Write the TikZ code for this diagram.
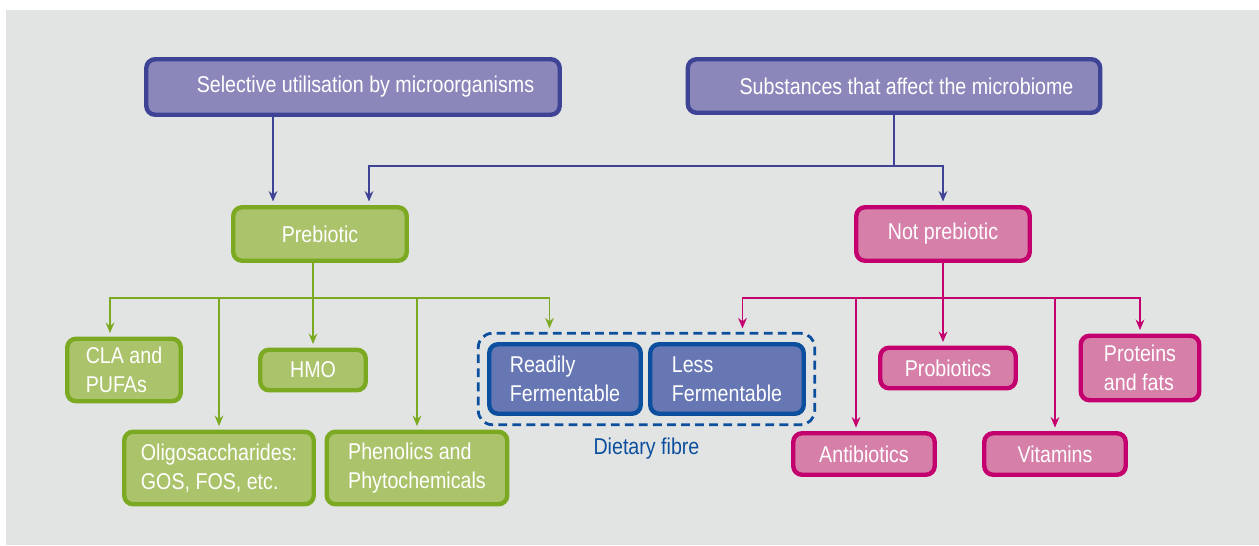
\documentclass[tikz,border=0pt]{standalone}
\usepackage{fontspec}
\setmainfont[FakeStretch=0.86]{Liberation Sans}
\usetikzlibrary{positioning,arrows.meta,calc,fit}

\definecolor{panel}{HTML}{E2E4E3}
\definecolor{lilac}{HTML}{8B87BA}
\definecolor{lilacdark}{HTML}{3F4396}
\definecolor{leaf}{HTML}{ABC36A}
\definecolor{leafdark}{HTML}{7BAA22}
\definecolor{rose}{HTML}{D67FA8}
\definecolor{rosedark}{HTML}{C4006E}
\definecolor{fibre}{HTML}{6677B4}
\definecolor{fibredark}{HTML}{0B4F9E}

\begin{document}
\begin{tikzpicture}[
      x=0.02cm, y=-0.02cm,
      boite/.style={
        draw,
        rounded corners=5pt,
        line width=2.5pt,
        text=white,
        font=\fontsize{13}{16.5}\selectfont,
        align=left,
        inner sep=2pt
      },
      haut/.style={
        boite,
        fill=lilac,
        draw=lilacdark
      },
      pre/.style={
        boite,
        fill=leaf,
        draw=leafdark
      },
      nonpre/.style={
        boite,
        fill=rose,
        draw=rosedark
      },
      fib/.style={
        boite,
        fill=fibre,
        draw=fibredark
      },
      arr/.style={
        -{Stealth[length=6pt,width=5pt,inset=2pt]},
        line width=0.7pt,
        shorten >=2pt
      }
    ]
    % fond
    \fill[white] (0,0) rectangle (1259,545);
    \fill[panel] (6,10) rectangle (1259,545);

    % niveau 1
    \node[haut, minimum width=8.27cm, minimum height=1.11cm] (selec) at (353,87)
      {\hspace{0.5cm}Selective utilisation by microorganisms};
    \node[haut, minimum width=8.25cm, minimum height=1.07cm] (subst) at (894,86)
      {\hspace{0.5cm}Substances that affect the microbiome};

    % niveau 2
    \node[pre, minimum width=3.47cm, minimum height=1.07cm] (prebio) at (320,234) {Prebiotic};
    \node[nonpre, minimum width=3.47cm, minimum height=1.07cm] (nonprebio) at (943,234) {Not prebiotic};

    % prebiotiques
    \node[pre, minimum width=2.27cm, minimum height=1.25cm] (cla) at (124,370) {CLA and\\PUFAs};
    \node[pre, minimum width=2.11cm, minimum height=0.81cm] (hmo) at (313,370) {HMO};
    \node[pre, minimum width=3.79cm, minimum height=1.45cm] (oligo) at (219,468) {Oligosaccharides:\\GOS, FOS, etc.};
    \node[pre, minimum width=3.61cm, minimum height=1.45cm] (pheno) at (417,468) {Phenolics and\\Phytochemicals};

    % fibres
    \node[fib, minimum width=3.03cm, minimum height=1.39cm] (readily) at (565,379) {Readily\\Fermentable};
    \node[fib, minimum width=3.07cm, minimum height=1.39cm] (less) at (727,379) {Less\\Fermentable};
    \node[draw=fibredark, dash pattern=on 5pt off 3pt, line width=1.6pt, rounded corners=8pt,
          inner sep=5pt, fit=(readily)(less)] (fibres) {};
    \node[text=fibredark, font=\fontsize{13}{16.5}\selectfont, below=3pt of fibres] (diet) {Dietary fibre};

    % non prebiotiques
    \node[nonpre, minimum width=2.71cm, minimum height=0.81cm] (probio) at (948,368) {Probiotics};
    \node[nonpre, minimum width=2.37cm, minimum height=1.29cm] (prot) at (1140,368) {Proteins\\and fats};
    \node[nonpre, minimum width=2.83cm, minimum height=0.83cm] (antibio) at (864,454) {Antibiotics};
    \node[nonpre, minimum width=2.83cm, minimum height=0.83cm] (vita) at (1055,454) {Vitamins};

    % liaisons du haut
    \coordinate (hbus) at (894,166);
    \draw[lilacdark, arr] (selec.south -| 273,0) -- ($(prebio.north)+(-47,0)$);
    \draw[lilacdark, line width=0.7pt] (subst.south -| hbus) -- (hbus);
    \draw[lilacdark, arr] (hbus) -| ($(prebio.north)+(49,0)$);
    \draw[lilacdark, arr] (hbus) -| (nonprebio.north);

    % liaisons vertes
    \coordinate (gbus) at (313,298);
    \draw[leafdark, line width=0.7pt] (prebio.south -| gbus) -- (gbus);
    \draw[leafdark, arr] (gbus) -| ($(cla.north)+(-14,0)$);
    \draw[leafdark, arr] (gbus) -| (oligo.north);
    \draw[leafdark, arr] (gbus) -- (hmo.north);
    \draw[leafdark, arr] (gbus) -| (pheno.north);
    \draw[leafdark, arr] (gbus) -| ($(fibres.north)+(-97,0)$);

    % liaisons roses
    \coordinate (pbus) at (943,298);
    \draw[rosedark, line width=0.7pt] (nonprebio.south) -- (pbus);
    \draw[rosedark, arr] (pbus) -| ($(fibres.north)+(96,0)$);
    \draw[rosedark, arr] (pbus) -| ($(antibio.north)+(-8,0)$);
    \draw[rosedark, arr] (pbus) -- (probio.north -| pbus);
    \draw[rosedark, arr] (pbus) -| (vita.north);
    \draw[rosedark, arr] (pbus) -| (prot.north);
\end{tikzpicture}
\end{document}
